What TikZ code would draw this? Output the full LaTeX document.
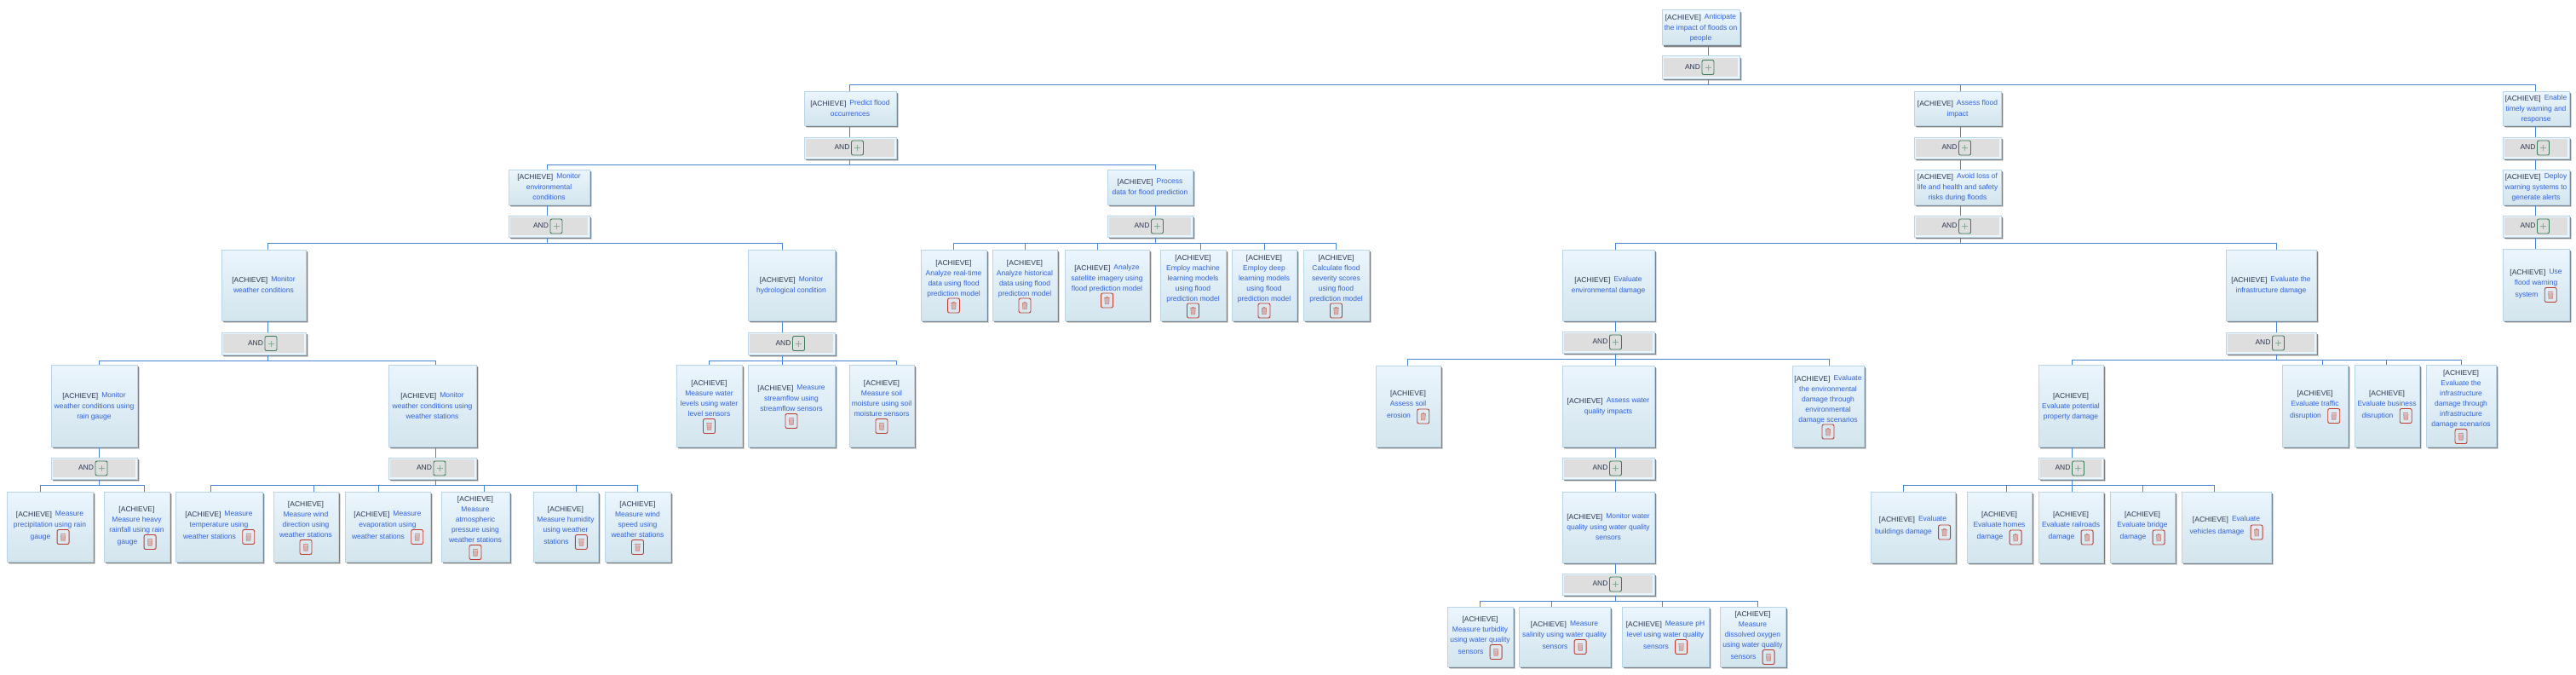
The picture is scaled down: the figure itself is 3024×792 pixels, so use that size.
\documentclass[tikz,border=0pt]{standalone}
\usepackage{fontspec}
\setmainfont{Liberation Sans}
\usetikzlibrary{shadows}
\definecolor{gdark}{HTML}{2D3650}
\definecolor{gblue}{HTML}{2F62DC}
\definecolor{gborder}{HTML}{B8D6E8}
\definecolor{gtop}{HTML}{EBF5FD}
\definecolor{gbot}{HTML}{D3E5ED}
\definecolor{gconn}{HTML}{4A84D4}
\definecolor{gand}{HTML}{DEDEDE}
\definecolor{gred}{HTML}{C0392B}
\definecolor{gredi}{HTML}{D08A82}
\definecolor{ggreen}{HTML}{3A7D5A}
\definecolor{ggreeni}{HTML}{86AD95}
\newcommand\gfont{\fontsize{8.5}{12}\selectfont}
\newcommand\gstrut{\rule[-3pt]{0pt}{12pt}}
\newcommand\Ach{\textcolor{gdark}{[ACHIEVE]}}
\newcommand\AM[1]{\textcolor{gdark}{[ACHIEVE]}\hspace{4pt}\raisebox{.6pt}{#1}}
\tikzset{
  shadowed/.style={general shadow={fill=black!16,shadow xshift=3pt,shadow yshift=-3pt},
                   general shadow={fill=black!50,shadow xshift=2pt,shadow yshift=-2pt}},
  goalbox/.style={rectangle,draw=gborder,line width=1pt,top color=gtop,bottom color=gbot,inner sep=0pt,shadowed},
  andbox/.style={rectangle,draw=gborder,line width=1pt,fill=gtop,inner sep=0pt,shadowed},
  gtext/.style={inner sep=0pt,align=center,text=gblue,font=\gfont},
  andtext/.style={inner sep=0pt,text=gdark,font=\gfont},
  conn/.style={draw=gconn,line width=1pt},
  plusbtn/.style={rectangle,rounded corners=2pt,draw=ggreen,line width=.9pt,fill=gand,minimum width=14pt,minimum height=17pt,inner sep=0pt},
  delbtn/.style={rectangle,rounded corners=2pt,draw=gred,line width=.9pt,minimum width=14pt,minimum height=17pt,inner sep=0pt},
  pics/plusicon/.style={code={\draw[ggreeni,line width=.7pt] (-3.5,0) -- (3.5,0) (0,-3.5) -- (0,3.5);}},
  pics/trashicon/.style={code={
    \fill[gredi] (-3.2,-3.6) rectangle (3.2,-2.7);
    \fill[gredi] (-1.2,-4.4) rectangle (1.2,-3.6);
    \fill[gredi,opacity=.55] (-2.6,-2.3) -- (2.6,-2.3) -- (2.2,4.2) -- (-2.2,4.2) -- cycle;
    \draw[gredi,line width=.7pt] (-2.6,-2.3) -- (-2.2,4.2) -- (2.2,4.2) -- (2.6,-2.3);}},
}
\newcommand\gbox[6]{%
  \pgfmathsetmacro\gxc{(#2+#3)/2}\pgfmathsetmacro\gyc{(#4+#5)/2}%
  \pgfmathsetmacro\gw{#3-#2}\pgfmathsetmacro\gh{#5-#4}%
  \node[goalbox,minimum width=\gw pt,minimum height=\gh pt] (#1) at (\gxc,\gyc) {};%
  \coordinate (#1-c) at (#6,\gyc);}
% goal without delete button: name,x1,x2,y1,y2,cx,lines
\newcommand\goalN[7]{\gbox{#1}{#2}{#3}{#4}{#5}{#6}%
  \node[gtext] (#1-t) at (\gxc,\gyc) {\gstrut #7\gstrut};}
% goal, button below the text: name,x1,x2,y1,y2,cx,n,lines
\newcommand\goalB[8]{\gbox{#1}{#2}{#3}{#4}{#5}{#6}%
  \pgfmathsetmacro\gct{\gyc-8.5}\pgfmathsetmacro\gty{\gyc+6*#7}%
  \node[gtext] (#1-t) at (\gxc,\gct) {\gstrut #8\gstrut};%
  \node[delbtn] (#1-d) at (\gxc,\gty) {};%
  \pic at (#1-d) {trashicon};}
% goal, button inline on last line: name,x1,x2,y1,y2,cx,n,lines,last
\newcommand\goalI[9]{\gbox{#1}{#2}{#3}{#4}{#5}{#6}%
  \pgfmathsetmacro\gct{\gyc-9}\pgfmathsetmacro\gty{\gyc+6*#7-7}%
  \node[gtext] (#1-t) at (\gxc,\gct) {\gstrut #8\gstrut};%
  \node[gtext] (#1-l) at (\gxc,\gty) {\gstrut #9\hspace{22pt}};%
  \node[delbtn,anchor=east,yshift=-1pt] (#1-d) at (#1-l.east) {};%
  \pic at (#1-d) {trashicon};}
% AND box: name,x1,x2,y1,y2,cx
\newcommand\andnode[6]{%
  \pgfmathsetmacro\gxc{(#2+#3)/2}\pgfmathsetmacro\gyc{(#4+#5)/2}%
  \pgfmathsetmacro\gw{#3-#2}\pgfmathsetmacro\gh{#5-#4}%
  \pgfmathsetmacro\gia{#2+2.2}\pgfmathsetmacro\gib{#3-2.2}%
  \pgfmathsetmacro\gic{#4+2.2}\pgfmathsetmacro\gid{#5-2.2}%
  \node[andbox,minimum width=\gw pt,minimum height=\gh pt] (#1) at (\gxc,\gyc) {};%
  \fill[gand] (\gia,\gic) rectangle (\gib,\gid);%
  \coordinate (#1-c) at (#6,\gyc);%
  \pgfmathsetmacro\gpx{\gxc+8.5}\pgfmathsetmacro\gax{\gxc-9.5}\pgfmathsetmacro\gay{\gyc-.5}%
  \node[andtext] (#1-t) at (\gax,\gay) {AND};%
  \node[plusbtn] (#1-p) at (\gpx,\gyc) {};%
  \pic at (#1-p) {plusicon};}
\newcommand\link[2]{\draw[conn] (#2-c |- #1.south) -- (#2-c |- #2.north);}
\newcommand\bus[2]{\foreach \gchild in {#2}{%
  \draw[conn] (#1-c |- #1.south) -- ++(0,7) -| (\gchild-c |- \gchild.north);}}
\begin{document}
\begin{tikzpicture}[x=1pt,y=-1pt]
\useasboundingbox (0,0) rectangle (3024,792);
\fill[white] (0,0) rectangle (3024,792);
% level 1
\goalN{root}{1951}{2042}{12}{53}{2005}{\AM{Anticipate}\\the impact of floods on\\people}
\andnode{rootA}{1951}{2042}{66}{92}{2005}
% level 2
\goalN{pred}{944}{1052}{107}{147}{997}{\AM{Predict flood}\\occurrences}
\andnode{predA}{944}{1052}{161}{186}{997}
\goalN{asse}{2247}{2349}{107}{147}{2301}{\AM{Assess flood}\\impact}
\andnode{asseA}{2247}{2349}{161}{186}{2301}
\goalN{enab}{2938}{3016}{107}{147}{2976}{\AM{Enable}\\timely warning and\\response}
\andnode{enabA}{2938}{3016}{161}{186}{2976}
% level 3
\goalN{menv}{597}{692}{199}{240}{642}{\AM{Monitor}\\environmental\\conditions}
\andnode{menvA}{597}{692}{253}{278}{642}
\goalN{proc}{1300}{1400}{199}{240}{1356}{\AM{Process}\\data for flood prediction}
\andnode{procA}{1300}{1400}{253}{278}{1356}
\goalN{avoi}{2247}{2349}{199}{240}{2301}{\AM{Avoid loss of}\\life and health and safety\\risks during floods}
\andnode{avoiA}{2247}{2349}{253}{278}{2301}
\goalN{depl}{2938}{3016}{199}{240}{2976}{\AM{Deploy}\\warning systems to\\generate alerts}
\andnode{deplA}{2938}{3016}{253}{278}{2976}
% level 4
\goalN{mwea}{260}{359}{293}{376}{314}{\AM{Monitor}\\weather conditions}
\andnode{mweaA}{260}{359}{390}{416}{314}
\goalN{hydr}{878}{980}{293}{376}{918}{\AM{Monitor}\\hydrological condition}
\andnode{hydrA}{878}{980}{390}{416}{918}
\goalB{real}{1081}{1158}{293}{376}{1119}{4}{\Ach\\Analyze real-time\\data using flood\\prediction model}
\goalB{hist}{1165}{1241}{293}{376}{1203}{4}{\Ach\\Analyze historical\\data using flood\\prediction model}
\goalB{sate}{1250}{1349}{293}{376}{1288}{3}{\AM{Analyze}\\satellite imagery using\\flood prediction model}
\goalB{mach}{1362}{1439}{293}{376}{1409}{5}{\Ach\\Employ machine\\learning models\\using flood\\prediction model}
\goalB{deep}{1446}{1522}{293}{376}{1484}{5}{\Ach\\Employ deep\\learning models\\using flood\\prediction model}
\goalB{seve}{1530}{1607}{293}{376}{1568}{5}{\Ach\\Calculate flood\\severity scores\\using flood\\prediction model}
\goalN{eenv}{1834}{1942}{293}{376}{1896}{\AM{Evaluate}\\environmental damage}
\andnode{eenvA}{1834}{1942}{389}{414}{1896}
\goalN{einf}{2613}{2719}{293}{376}{2672}{\AM{Evaluate the}\\infrastructure damage}
\andnode{einfA}{2613}{2719}{390}{415}{2672}
\goalI{usew}{2938}{3016}{292}{376}{2976}{3}{\AM{Use}\\flood warning}{system}
% level 5
\goalN{rain}{60}{161}{428}{524}{116}{\AM{Monitor}\\weather conditions using\\rain gauge}
\andnode{rainA}{60}{161}{537}{562}{116}
\goalN{stat}{456}{559}{428}{524}{511}{\AM{Monitor}\\weather conditions using\\weather stations}
\andnode{statA}{456}{559}{537}{562}{511}
\goalB{wlev}{794}{871}{428}{524}{832}{4}{\Ach\\Measure water\\levels using water\\level sensors}
\goalB{strm}{878}{980}{428}{524}{918}{3}{\AM{Measure}\\streamflow using\\streamflow sensors}
\goalB{smoi}{997}{1073}{428}{524}{1052}{4}{\Ach\\Measure soil\\moisture using soil\\moisture sensors}
\goalI{eros}{1615}{1691}{429}{524}{1652}{3}{\Ach\\Assess soil}{erosion}
\goalN{awat}{1834}{1942}{429}{524}{1896}{\AM{Assess water}\\quality impacts}
\andnode{awatA}{1834}{1942}{537}{562}{1896}
\goalB{escn}{2104}{2188}{429}{524}{2147}{5}{\AM{Evaluate}\\the environmental\\damage through\\environmental\\damage scenarios}
\goalN{prop}{2393}{2469}{428}{524}{2432}{\Ach\\Evaluate potential\\property damage}
\andnode{propA}{2393}{2469}{537}{562}{2432}
\goalI{traf}{2679}{2756}{428}{524}{2726}{3}{\Ach\\Evaluate traffic}{disruption}
\goalI{busi}{2764}{2840}{428}{524}{2801}{3}{\Ach\\Evaluate business}{disruption}
\goalB{iscn}{2848}{2930}{428}{524}{2889}{6}{\Ach\\Evaluate the\\infrastructure\\damage through\\infrastructure\\damage scenarios}
% level 6
\goalI{prec}{8}{109}{577}{659}{47}{3}{\AM{Measure}\\precipitation using rain}{gauge}
\goalI{heav}{122}{199}{577}{659}{169}{4}{\Ach\\Measure heavy\\rainfall using rain}{gauge}
\goalI{temp}{206}{308}{577}{659}{247}{3}{\AM{Measure}\\temperature using}{weather stations}
\goalB{wdir}{321}{397}{577}{659}{368}{4}{\Ach\\Measure wind\\direction using\\weather stations}
\goalI{evap}{405}{505}{577}{659}{444}{3}{\AM{Measure}\\evaporation using}{weather stations}
\goalB{atmo}{518}{598}{577}{659}{568}{5}{\Ach\\Measure\\atmospheric\\pressure using\\weather stations}
\goalI{humi}{626}{702}{577}{659}{676}{4}{\Ach\\Measure humidity\\using weather}{stations}
\goalB{wspd}{710}{787}{577}{659}{748}{4}{\Ach\\Measure wind\\speed using\\weather stations}
\goalN{mwqu}{1834}{1942}{577}{660}{1896}{\AM{Monitor water}\\quality using water quality\\sensors}
\andnode{mwquA}{1834}{1942}{673}{698}{1896}
\goalI{buil}{2196}{2295}{577}{660}{2234}{2}{\AM{Evaluate}}{buildings damage}
\goalI{home}{2309}{2385}{577}{660}{2355}{3}{\Ach\\Evaluate homes}{damage}
\goalI{railr}{2393}{2469}{577}{660}{2432}{3}{\Ach\\Evaluate railroads}{damage}
\goalI{brid}{2477}{2553}{577}{660}{2515}{3}{\Ach\\Evaluate bridge}{damage}
\goalI{vehi}{2561}{2666}{577}{660}{2599}{2}{\AM{Evaluate}}{vehicles damage}
% level 7
\goalI{turb}{1699}{1776}{712}{782}{1737}{4}{\Ach\\Measure turbidity\\using water quality}{sensors}
\goalI{sali}{1783}{1890}{712}{782}{1821}{3}{\AM{Measure}\\salinity using water quality}{sensors}
\goalI{phle}{1904}{2006}{712}{782}{1951}{3}{\AM{Measure pH}\\level using water quality}{sensors}
\goalI{diss}{2019}{2096}{712}{782}{2063}{5}{\Ach\\Measure\\dissolved oxygen\\using water quality}{sensors}
% connectors
\link{root}{rootA}
\bus{rootA}{pred,asse,enab}
\link{pred}{predA} \bus{predA}{menv,proc}
\link{asse}{asseA} \bus{asseA}{avoi}
\link{enab}{enabA} \bus{enabA}{depl}
\link{menv}{menvA} \bus{menvA}{mwea,hydr}
\link{proc}{procA} \bus{procA}{real,hist,sate,mach,deep,seve}
\link{avoi}{avoiA} \bus{avoiA}{eenv,einf}
\link{depl}{deplA} \bus{deplA}{usew}
\link{mwea}{mweaA} \bus{mweaA}{rain,stat}
\link{hydr}{hydrA} \bus{hydrA}{wlev,strm,smoi}
\link{eenv}{eenvA} \bus{eenvA}{eros,awat,escn}
\link{einf}{einfA} \bus{einfA}{prop,traf,busi,iscn}
\link{rain}{rainA} \bus{rainA}{prec,heav}
\link{stat}{statA} \bus{statA}{temp,wdir,evap,atmo,humi,wspd}
\link{awat}{awatA} \bus{awatA}{mwqu}
\link{prop}{propA} \bus{propA}{buil,home,railr,brid,vehi}
\link{mwqu}{mwquA} \bus{mwquA}{turb,sali,phle,diss}
\end{tikzpicture}
\end{document}
